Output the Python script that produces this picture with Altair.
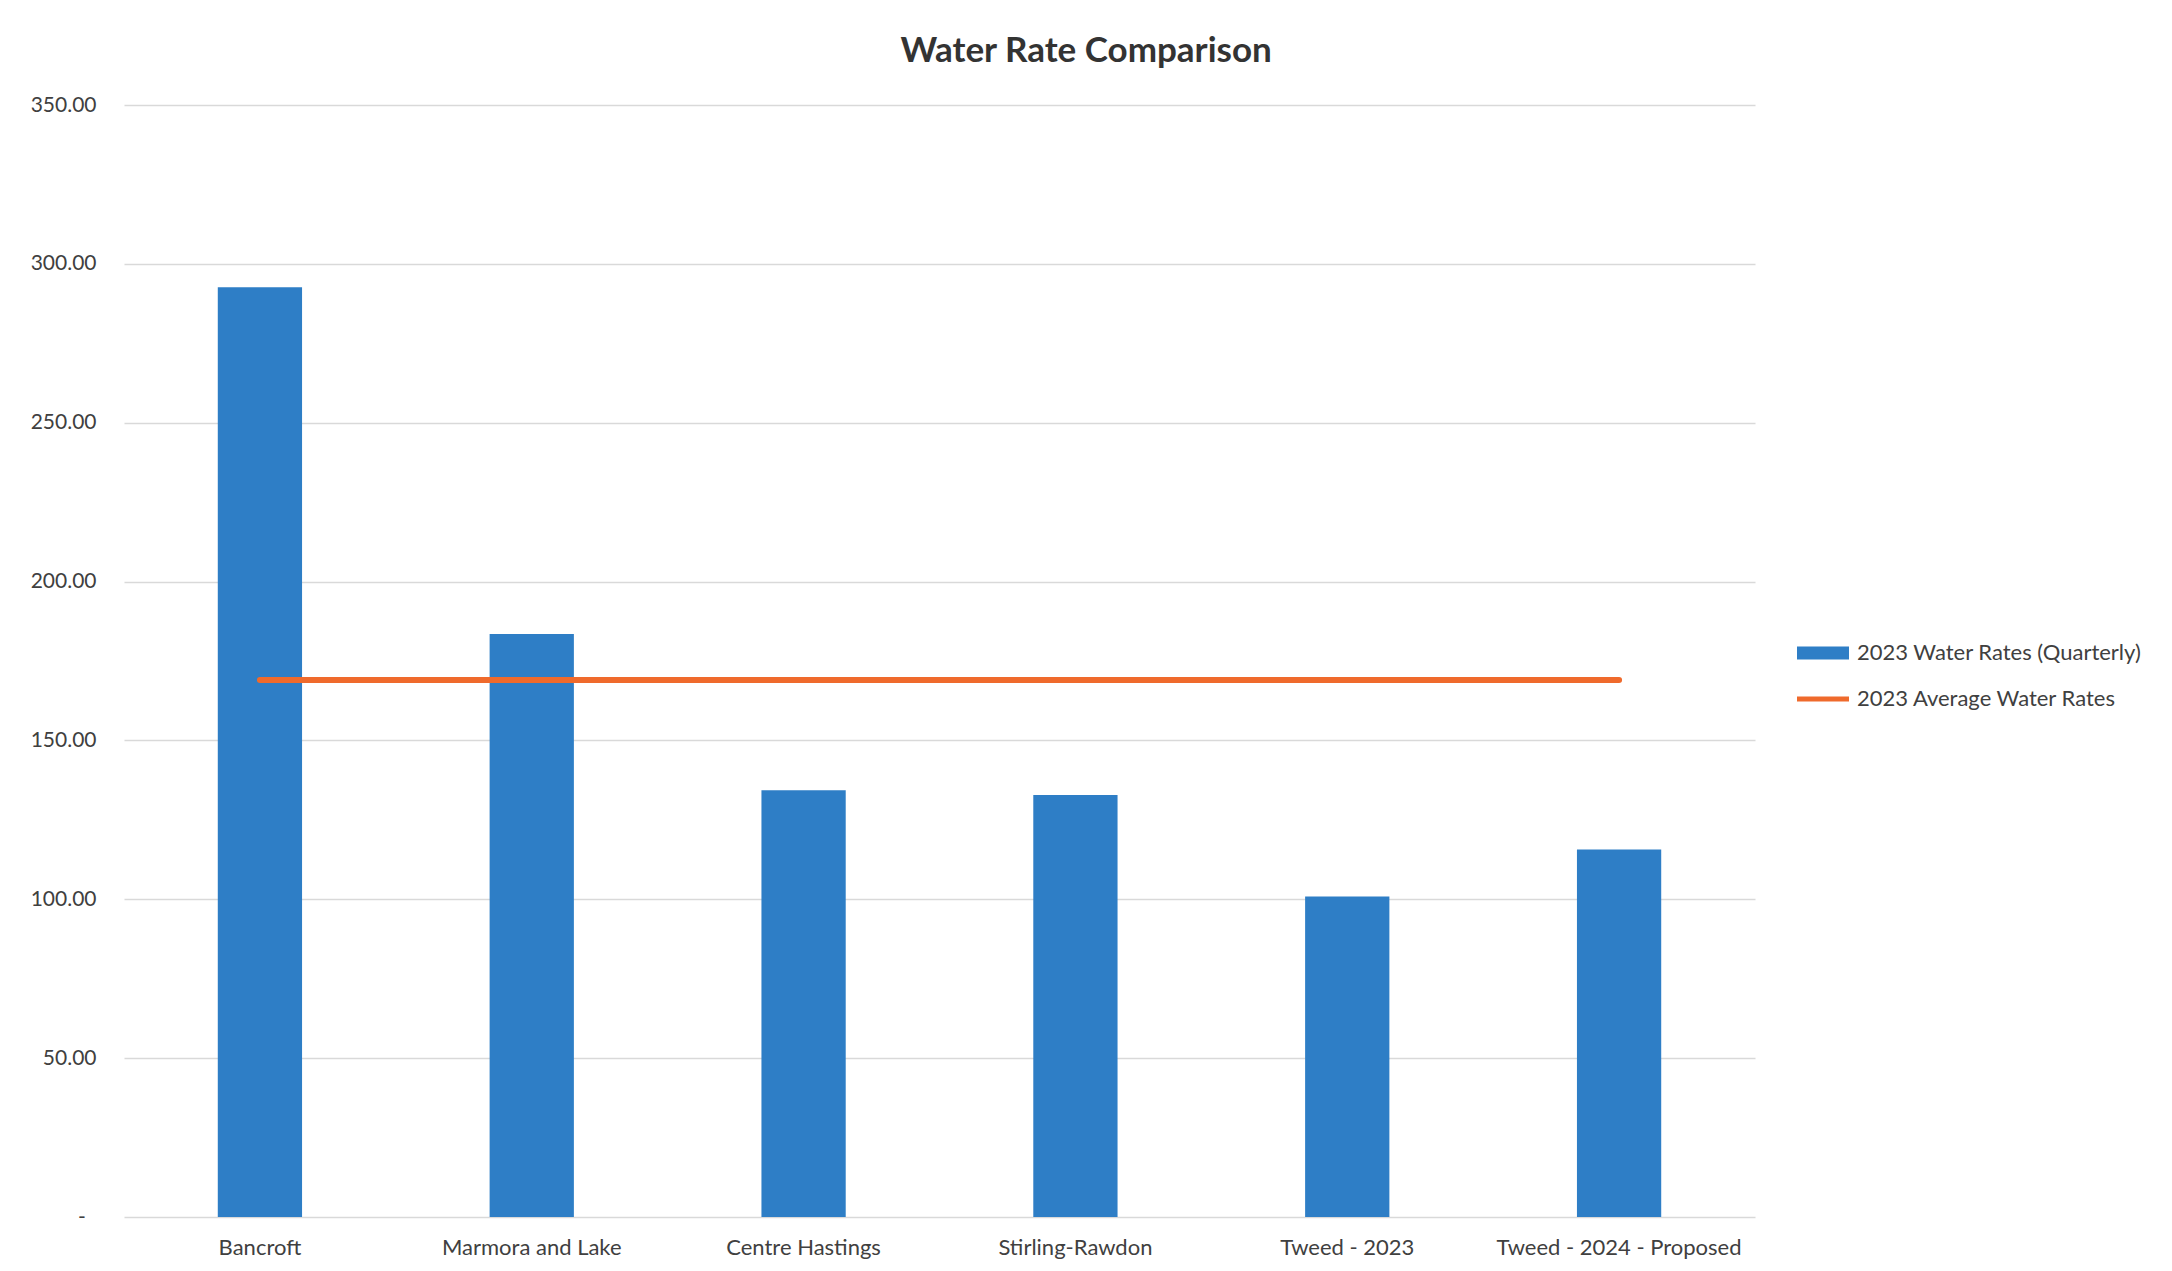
import altair as alt
import pandas as pd

# Quarterly water rates by municipality
municipalities = [
    "Bancroft",
    "Marmora and Lake",
    "Centre Hastings",
    "Stirling-Rawdon",
    "Tweed - 2023",
    "Tweed - 2024 - Proposed",
]
quarterly_rates = [292.6, 183.5, 134.3, 132.8, 100.9, 115.7]
average_rates = [169.0, 169.0, 169.0, 169.0, 169.0, 169.0]
y_ticks = [0, 50, 100, 150, 200, 250, 300, 350]

bar_series = "2023 Water Rates (Quarterly)"
line_series = "2023 Average Water Rates"

BLUE = "#2E7EC6"
ORANGE = "#EF6A2C"
FONT = "Lato"
TEXT = "#404040"
GRID = "#D9D9D9"

bars_df = pd.DataFrame({"municipality": municipalities, "rate": quarterly_rates, "series": bar_series})
line_df = pd.DataFrame({"municipality": municipalities, "rate": average_rates, "series": line_series})
keys_df = pd.concat([bars_df, line_df], ignore_index=True)

x_enc = alt.X(
    "municipality:N",
    sort=municipalities,
    scale=alt.Scale(paddingInner=0.69, paddingOuter=0.345),
    axis=alt.Axis(
        title=None,
        labelAngle=0,
        ticks=False,
        domain=False,
        grid=False,
        labelFont=FONT,
        labelFontSize=22,
        labelColor=TEXT,
        labelPadding=20,
        labelLimit=0,
    ),
)
# accounting-style zero: a dash with trailing padding (the zero-width space keeps
# the non-breaking spaces from being trimmed)
y_enc = alt.Y(
    "rate:Q",
    scale=alt.Scale(domain=[0, 350], nice=False),
    axis=alt.Axis(
        title=None,
        values=y_ticks,
        labelExpr="datum.value == 0 ? '-\u00a0\u00a0\u200b' : format(datum.value, ',.2f')",
        ticks=False,
        domain=False,
        grid=True,
        gridColor=GRID,
        gridWidth=1.5,
        labelFont=FONT,
        labelFontSize=21,
        labelColor=TEXT,
        labelPadding=28,
    ),
)

series_domain = [bar_series, line_series]
# legend keys: a wide filled block for the bars and a thin stroke for the line
key_shapes = [
    "M-1,-0.25L1,-0.25L1,0.25L-1,0.25Z",
    "M-1,-0.1L1,-0.1L1,0.1L-1,0.1Z",
]
legend = alt.Legend(
    title=None,
    orient="none",
    legendX=1673,
    legendY=522,
    symbolSize=2704,
    symbolOpacity=1,
    symbolStrokeWidth=0,
    labelFont=FONT,
    labelFontSize=22,
    labelColor=TEXT,
    labelOffset=8,
    labelLimit=0,
    rowPadding=9,
)

bars = alt.Chart(bars_df).mark_bar(color=BLUE).encode(x=x_enc, y=y_enc)

avg_line = alt.Chart(line_df).mark_line(
    color=ORANGE, strokeWidth=6, strokeCap="round"
).encode(x=x_enc, y=y_enc)

keys = alt.Chart(keys_df).mark_point(filled=True, opacity=0, size=2704).encode(
    x=x_enc,
    y=y_enc,
    color=alt.Color(
        "series:N",
        scale=alt.Scale(domain=series_domain, range=[BLUE, ORANGE]),
        legend=legend,
    ),
    shape=alt.Shape(
        "series:N",
        scale=alt.Scale(domain=series_domain, range=key_shapes),
        legend=legend,
    ),
)

chart = (
    alt.layer(bars, avg_line, keys)
    .properties(
        width=1631,
        height=1112,
        padding={"left": 30, "top": 34, "right": 20, "bottom": 10},
        title=alt.TitleParams(
            "Water Rate Comparison",
            font=FONT,
            fontSize=35,
            fontWeight="bold",
            color="#333333",
            anchor="middle",
            frame="bounds",
            offset=25,
        ),
    )
    .configure_view(stroke=None)
)

chart.save("out.html", embed_options={"renderer": "svg", "actions": False})
